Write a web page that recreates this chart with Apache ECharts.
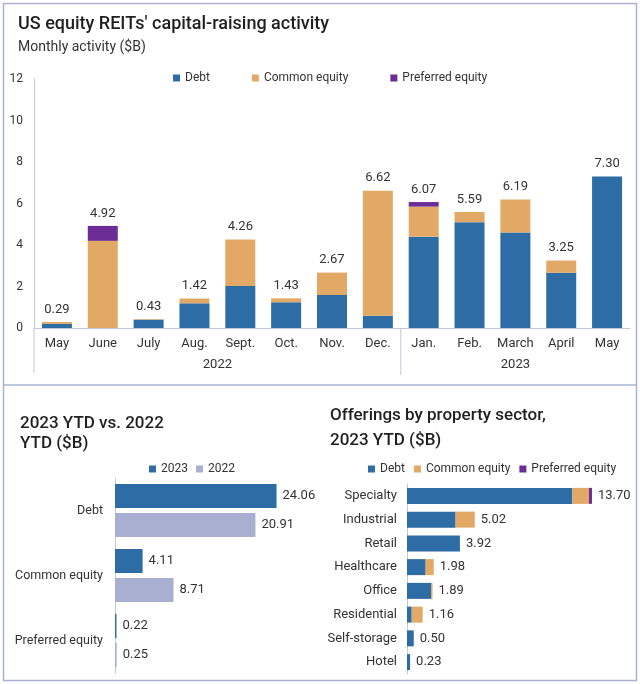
<!DOCTYPE html>
<html><head><meta charset="utf-8">
<script src="https://cdn.jsdelivr.net/npm/echarts@6/dist/echarts.min.js"></script>
<style>html,body{margin:0;padding:0;background:#fff}#c{width:640px;height:684px}</style>
</head><body><div id="c"></div>
<script>
// ---- Data ----
const months = ['May','June','July','Aug.','Sept.','Oct.','Nov.','Dec.','Jan.','Feb.','March','April','May'];
const years = ['2022','2023'];
const yearStart = [0, 8];
const yearEnd = [7, 12];
const monthlyDebt      = [0.20,0.00,0.40,1.19,2.03,1.24,1.59,0.59,4.40,5.10,4.60,2.66,7.30];
const monthlyCommon    = [0.09,4.20,0.03,0.23,2.23,0.19,1.08,6.03,1.45,0.49,1.59,0.59,0.00];
const monthlyPreferred = [0.00,0.72,0.00,0.00,0.00,0.00,0.00,0.00,0.22,0.00,0.00,0.00,0.00];
const monthlyTotal     = [0.29,4.92,0.43,1.42,4.26,1.43,2.67,6.62,6.07,5.59,6.19,3.25,7.30];
const yTicks = [0,2,4,6,8,10,12];

const ytdCategories = ['Debt','Common equity','Preferred equity'];
const ytd2023 = [24.06,4.11,0.22];
const ytd2022 = [20.91,8.71,0.25];

const sectors = ['Specialty','Industrial','Retail','Healthcare','Office','Residential','Self-storage','Hotel'];
const sectorDebt      = [12.25,3.60,3.92,1.38,1.78,0.35,0.50,0.23];
const sectorCommon    = [1.23,1.42,0.00,0.60,0.11,0.81,0.00,0.00];
const sectorPreferred = [0.22,0.00,0.00,0.00,0.00,0.00,0.00,0.00];
const sectorTotal     = [13.70,5.02,3.92,1.98,1.89,1.16,0.50,0.23];

// ---- Style ----
const FONT = 'Roboto';
const C_DEBT = '#2d6ca5', C_COMMON = '#e2a865', C_PREF = '#6b2d95', C_2022 = '#a9afd0';
const AXIS = '#c3c8e0', BORDER = '#aab0d4', TXT = '#333', TITLE = '#1f1f1f';

const chart = echarts.init(document.getElementById('c'), null, {renderer:'canvas'});
const lbl = {fontFamily: FONT, fontSize: 12, color: TXT};

const option = {
  backgroundColor: '#fff',
  animation: false,
  textStyle: {fontFamily: FONT},
  title: [
    {text: "US equity REITs' capital-raising activity", left: 13, top: 10,
     textStyle: {fontFamily: FONT, fontSize: 18, fontWeight: 500, color: TITLE}},
    {text: 'Monthly activity ($B)', left: 13, top: 35,
     textStyle: {fontFamily: FONT, fontSize: 14, fontWeight: 400, color: TXT}},
    {text: '2023 YTD vs. 2022\nYTD ($B)', left: 15, top: 409,
     textStyle: {fontFamily: FONT, fontSize: 17, fontWeight: 500, color: TITLE, lineHeight: 20}},
    {text: 'Offerings by property sector,\n2023 YTD ($B)', left: 325, top: 398,
     textStyle: {fontFamily: FONT, fontSize: 17, fontWeight: 500, color: TITLE, lineHeight: 25}}
  ],
  legend: [
    {left: 168, top: 67, icon: 'rect', itemWidth: 7, itemHeight: 7, itemGap: 42,
     data: ['Debt','Common equity','Preferred equity'], textStyle: lbl, selectedMode: false},
    {left: 144, top: 458, icon: 'rect', itemWidth: 7, itemHeight: 7, itemGap: 8,
     data: ['2023','2022'], textStyle: lbl, selectedMode: false},
    {left: 363, top: 458, icon: 'rect', itemWidth: 7, itemHeight: 7, itemGap: 9,
     data: ['Debt','Common equity','Preferred equity'], textStyle: lbl, selectedMode: false}
  ],
  grid: [
    {left: 34, right: 10, top: 79, height: 249},
    {left: 115, width: 188, top: 478, height: 195},
    {left: 407, width: 216, top: 484, height: 190}
  ],
  xAxis: [
    {gridIndex: 0, type: 'category', data: months,
     axisLine: {lineStyle: {color: AXIS}}, axisTick: {show: false},
     axisLabel: {interval: 0, fontFamily: FONT, fontSize: 13, color: TXT, margin: 9}},
    {gridIndex: 1, type: 'value', min: 0, max: 28, show: false},
    {gridIndex: 2, type: 'value', min: 0, max: 16, show: false}
  ],
  yAxis: [
    {gridIndex: 0, type: 'value', min: yTicks[0], max: yTicks[yTicks.length-1], interval: 2,
     axisLine: {show: true, lineStyle: {color: AXIS}}, axisTick: {show: false}, splitLine: {show: false},
     axisLabel: {fontFamily: FONT, fontSize: 12, color: TXT, margin: 11}},
    {gridIndex: 1, type: 'category', data: ytdCategories, inverse: true,
     axisLine: {show: true, lineStyle: {color: AXIS}}, axisTick: {show: false},
     axisLabel: {fontFamily: FONT, fontSize: 12.5, color: TXT, margin: 12}},
    {gridIndex: 2, type: 'category', data: sectors, inverse: true,
     axisLine: {show: true, lineStyle: {color: AXIS}}, axisTick: {show: false},
     axisLabel: {fontFamily: FONT, fontSize: 13, color: TXT, margin: 10}}
  ],
  series: [
    {name: 'Debt', type: 'bar', xAxisIndex: 0, yAxisIndex: 0, stack: 'm', data: monthlyDebt,
     barWidth: 30, barGap: '-100%', itemStyle: {color: C_DEBT}},
    {name: 'Common equity', type: 'bar', xAxisIndex: 0, yAxisIndex: 0, stack: 'm', data: monthlyCommon,
     barWidth: 30, barGap: '-100%', itemStyle: {color: C_COMMON}},
    {name: 'Preferred equity', type: 'bar', xAxisIndex: 0, yAxisIndex: 0, stack: 'm', data: monthlyPreferred,
     barWidth: 30, barGap: '-100%', itemStyle: {color: C_PREF}},
    {name: 'mTotal', type: 'bar', xAxisIndex: 0, yAxisIndex: 0, data: monthlyTotal, z: 1,
     barWidth: 30, barGap: '-100%', itemStyle: {color: 'rgba(0,0,0,0)'}, silent: true,
     label: {show: true, position: 'top', distance: 6, fontFamily: FONT, fontSize: 13, color: TXT,
             formatter: p => p.value.toFixed(2)}},

    {name: '2023', type: 'bar', xAxisIndex: 1, yAxisIndex: 1, data: ytd2023,
     barWidth: 24, barGap: '21%', itemStyle: {color: C_DEBT},
     label: {show: true, position: 'right', distance: 6, fontFamily: FONT, fontSize: 13, color: TXT,
             formatter: p => p.value.toFixed(2)}},
    {name: '2022', type: 'bar', xAxisIndex: 1, yAxisIndex: 1, data: ytd2022,
     barWidth: 24, barGap: '21%', itemStyle: {color: C_2022},
     label: {show: true, position: 'right', distance: 6, fontFamily: FONT, fontSize: 13, color: TXT,
             formatter: p => p.value.toFixed(2)}},

    {name: 'Debt', type: 'bar', xAxisIndex: 2, yAxisIndex: 2, stack: 's', data: sectorDebt,
     barWidth: 16, barGap: '-100%', itemStyle: {color: C_DEBT}},
    {name: 'Common equity', type: 'bar', xAxisIndex: 2, yAxisIndex: 2, stack: 's', data: sectorCommon,
     barWidth: 16, barGap: '-100%', itemStyle: {color: C_COMMON}},
    {name: 'Preferred equity', type: 'bar', xAxisIndex: 2, yAxisIndex: 2, stack: 's', data: sectorPreferred,
     barWidth: 16, barGap: '-100%', itemStyle: {color: C_PREF}},
    {name: 'sTotal', type: 'bar', xAxisIndex: 2, yAxisIndex: 2, data: sectorTotal, z: 1,
     barWidth: 16, barGap: '-100%', itemStyle: {color: 'rgba(0,0,0,0)'}, silent: true,
     label: {show: true, position: 'right', distance: 6, fontFamily: FONT, fontSize: 13, color: TXT,
             formatter: p => p.value.toFixed(2)}}
  ]
};
chart.setOption(option);

// year group labels and separators, positioned through the axis scales
const px = i => chart.convertToPixel({xAxisIndex: 0}, i);
const band = px(1) - px(0);
const y0 = chart.convertToPixel({yAxisIndex: 0}, 0);
const leftEdge = px(0) - band / 2;
const graphics = [
  {type: 'rect', shape: {x: 3.5, y: 3.5, width: 633, height: 677}, style: {fill: null, stroke: BORDER, lineWidth: 1.5}, silent: true},
  {type: 'line', shape: {x1: 3.5, y1: 385, x2: 636.5, y2: 385}, style: {stroke: BORDER, lineWidth: 1.5}, silent: true},
  {type: 'line', shape: {x1: leftEdge, y1: y0, x2: leftEdge, y2: y0 + 45}, style: {stroke: AXIS, lineWidth: 1}, silent: true},
  {type: 'line', shape: {x1: (px(7) + px(8)) / 2, y1: y0, x2: (px(7) + px(8)) / 2, y2: y0 + 47}, style: {stroke: AXIS, lineWidth: 1}, silent: true}
];
years.forEach((yr, k) => {
  graphics.push({type: 'text', x: (px(yearStart[k]) + px(yearEnd[k])) / 2, y: y0 + 37,
    style: {text: yr, fontFamily: FONT, fontSize: 13, fill: TXT, align: 'center', verticalAlign: 'middle'}, silent: true});
});
chart.setOption({graphic: graphics});
</script>
</body></html>
